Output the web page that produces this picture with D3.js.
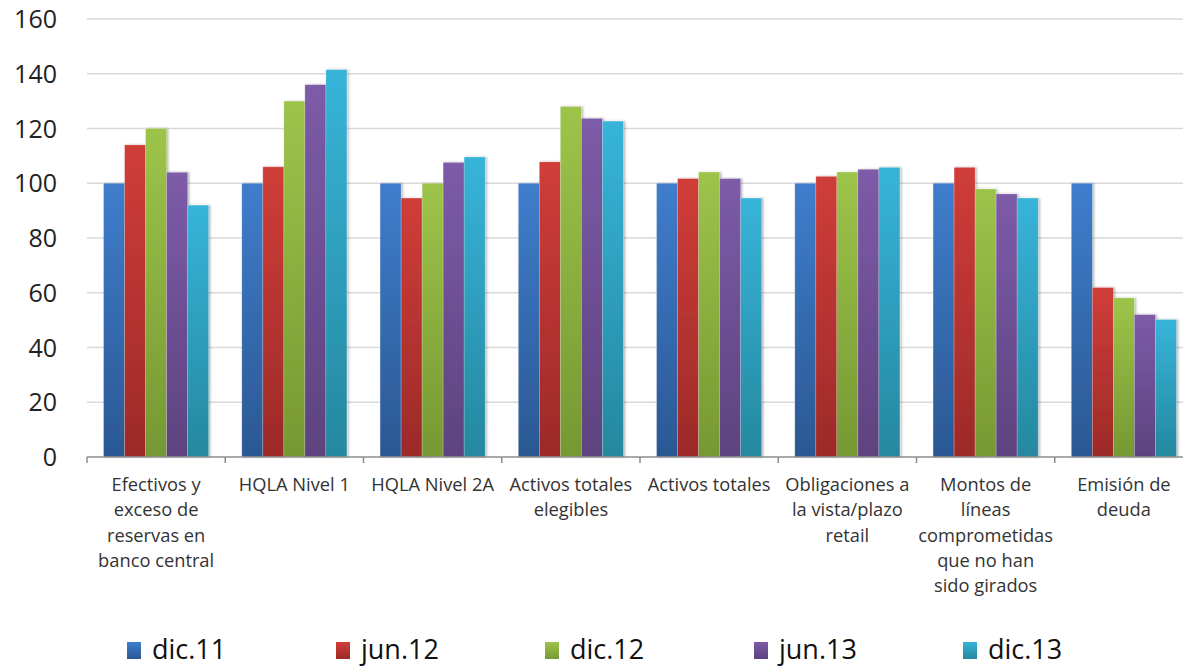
<!DOCTYPE html>
<html lang="es">
<head>
<meta charset="utf-8">
<title>Indicadores</title>
<script src="https://d3js.org/d3.v7.min.js"></script>
<style>
  body { margin: 0; background: #fff; }
  svg text { font-family: "Open Sans", "Noto Sans", sans-serif; fill: #222; }
</style>
</head>
<body>
<script>

// data
const categories = [
  ["Efectivos y", "exceso de", "reservas en", "banco central"],
  ["HQLA Nivel 1"],
  ["HQLA Nivel 2A"],
  ["Activos totales", "elegibles"],
  ["Activos totales"],
  ["Obligaciones a", "la vista/plazo", "retail"],
  ["Montos de", "líneas", "comprometidas", "que no han", "sido girados"],
  ["Emisión de", "deuda"]
];
const seriesNames = ["dic.11", "jun.12", "dic.12", "jun.13", "dic.13"];
const dic11 = [100, 100, 100, 100, 100, 100, 100, 100];
const jun12 = [114, 106, 94.6, 107.8, 101.7, 102.5, 105.8, 61.9];
const dic12 = [120, 130, 100, 128, 104.1, 104.1, 97.9, 58.1];
const jun13 = [104, 136, 107.6, 123.7, 101.7, 105.1, 96.1, 52];
const dic13 = [92, 141.5, 109.6, 122.7, 94.6, 105.8, 94.6, 50.2];
const yTicks = [0, 20, 40, 60, 80, 100, 120, 140, 160];

const series = [dic11, jun12, dic12, jun13, dic13];
const topColors = ["#3f7dcc", "#d03d39", "#9dc44a", "#7d5ba8", "#37b4d9"];
const bottomColors = ["#2b5893", "#9c2a28", "#769833", "#5d437f", "#25889f"];

const W = 1183, H = 667;
const margin = {left: 87, top: 19, bottom: 210};

const svg = d3.select("body").append("svg")
    .attr("width", W)
    .attr("height", H);

// gradients + soft shadow for the bars
const defs = svg.append("defs");
topColors.forEach((c, i) => {
  const g = defs.append("linearGradient")
      .attr("id", "grad" + i)
      .attr("x1", 0).attr("y1", 0).attr("x2", 0).attr("y2", 1);
  g.append("stop").attr("offset", "0%").attr("stop-color", c);
  g.append("stop").attr("offset", "100%").attr("stop-color", bottomColors[i]);
});
const shadow = defs.append("filter").attr("id", "shadow")
    .attr("x", "-20%").attr("y", "-5%").attr("width", "150%").attr("height", "110%");
shadow.append("feDropShadow")
    .attr("dx", 1.5).attr("dy", 0).attr("stdDeviation", 1.2)
    .attr("flood-color", "#000").attr("flood-opacity", 0.3);

// last category runs a bit past the right edge, like the original
const x = d3.scaleBand()
    .domain(d3.range(categories.length))
    .range([margin.left, 1193]);

const x1 = d3.scaleBand()
    .domain(d3.range(series.length))
    .range([x.bandwidth() * 0.12, x.bandwidth() * 0.88]);

const y = d3.scaleLinear()
    .domain([0, 160])
    .range([H - margin.bottom, margin.top]);

// gridlines
svg.append("g")
  .selectAll("line")
  .data(yTicks.filter(d => d > 0))
  .join("line")
    .attr("x1", margin.left)
    .attr("x2", W)
    .attr("y1", d => y(d))
    .attr("y2", d => y(d))
    .attr("stroke", "#d9d9d9")
    .attr("stroke-width", 1.5);

// y labels
svg.append("g")
  .selectAll("text")
  .data(yTicks)
  .join("text")
    .attr("x", 57)
    .attr("y", d => y(d))
    .attr("dy", "0.36em")
    .attr("text-anchor", "end")
    .style("font-size", "25px")
    .text(d => d);

// bars
const groups = svg.append("g")
  .selectAll("g")
  .data(categories.map((c, i) => i))
  .join("g")
    .attr("transform", i => `translate(${x(i)},0)`);

groups.selectAll("rect")
  .data(i => series.map((s, k) => ({k: k, v: s[i]})))
  .join("rect")
    .attr("x", d => x1(d.k))
    .attr("y", d => y(d.v))
    .attr("width", x1.bandwidth())
    .attr("height", d => y(0) - y(d.v))
    .attr("fill", d => `url(#grad${d.k})`)
    .attr("stroke", "rgba(255,255,255,0.35)")
    .attr("stroke-width", 0.6)
    .attr("filter", "url(#shadow)");

// x axis line and ticks
const axis = svg.append("g").attr("transform", `translate(0,${y(0)})`);
axis.append("line")
    .attr("x1", margin.left).attr("x2", W)
    .attr("stroke", "#8c8c8c").attr("stroke-width", 1.5);
axis.selectAll("line.tick")
  .data(d3.range(categories.length + 1))
  .join("line")
    .attr("class", "tick")
    .attr("x1", i => margin.left + i * x.bandwidth())
    .attr("x2", i => margin.left + i * x.bandwidth())
    .attr("y1", 0).attr("y2", 6)
    .attr("stroke", "#8c8c8c").attr("stroke-width", 1.5);

// category labels
const labels = svg.append("g")
  .selectAll("text")
  .data(categories)
  .join("text")
    .attr("x", (d, i) => x(i) + x.bandwidth() / 2)
    .attr("y", 491)
    .attr("text-anchor", "middle")
    .style("font-size", "18.3px")
    .style("fill", "#333");
labels.selectAll("tspan")
  .data(d => d)
  .join("tspan")
    .attr("x", function() { return d3.select(this.parentNode).attr("x"); })
    .attr("dy", (d, j) => j === 0 ? 0 : 25.3)
    .text(d => d);

// legend
const legend = svg.append("g")
  .selectAll("g")
  .data(seriesNames)
  .join("g")
    .attr("transform", (d, i) => `translate(${127 + i * 209},649)`);
legend.append("rect")
    .attr("x", 0).attr("y", -7)
    .attr("width", 14).attr("height", 17)
    .attr("fill", (d, i) => `url(#grad${i})`);
legend.append("text")
    .attr("x", 25)
    .attr("dy", "0.36em")
    .style("font-size", "27px")
    .style("fill", "#111")
    .text(d => d);

</script>
</body>
</html>
